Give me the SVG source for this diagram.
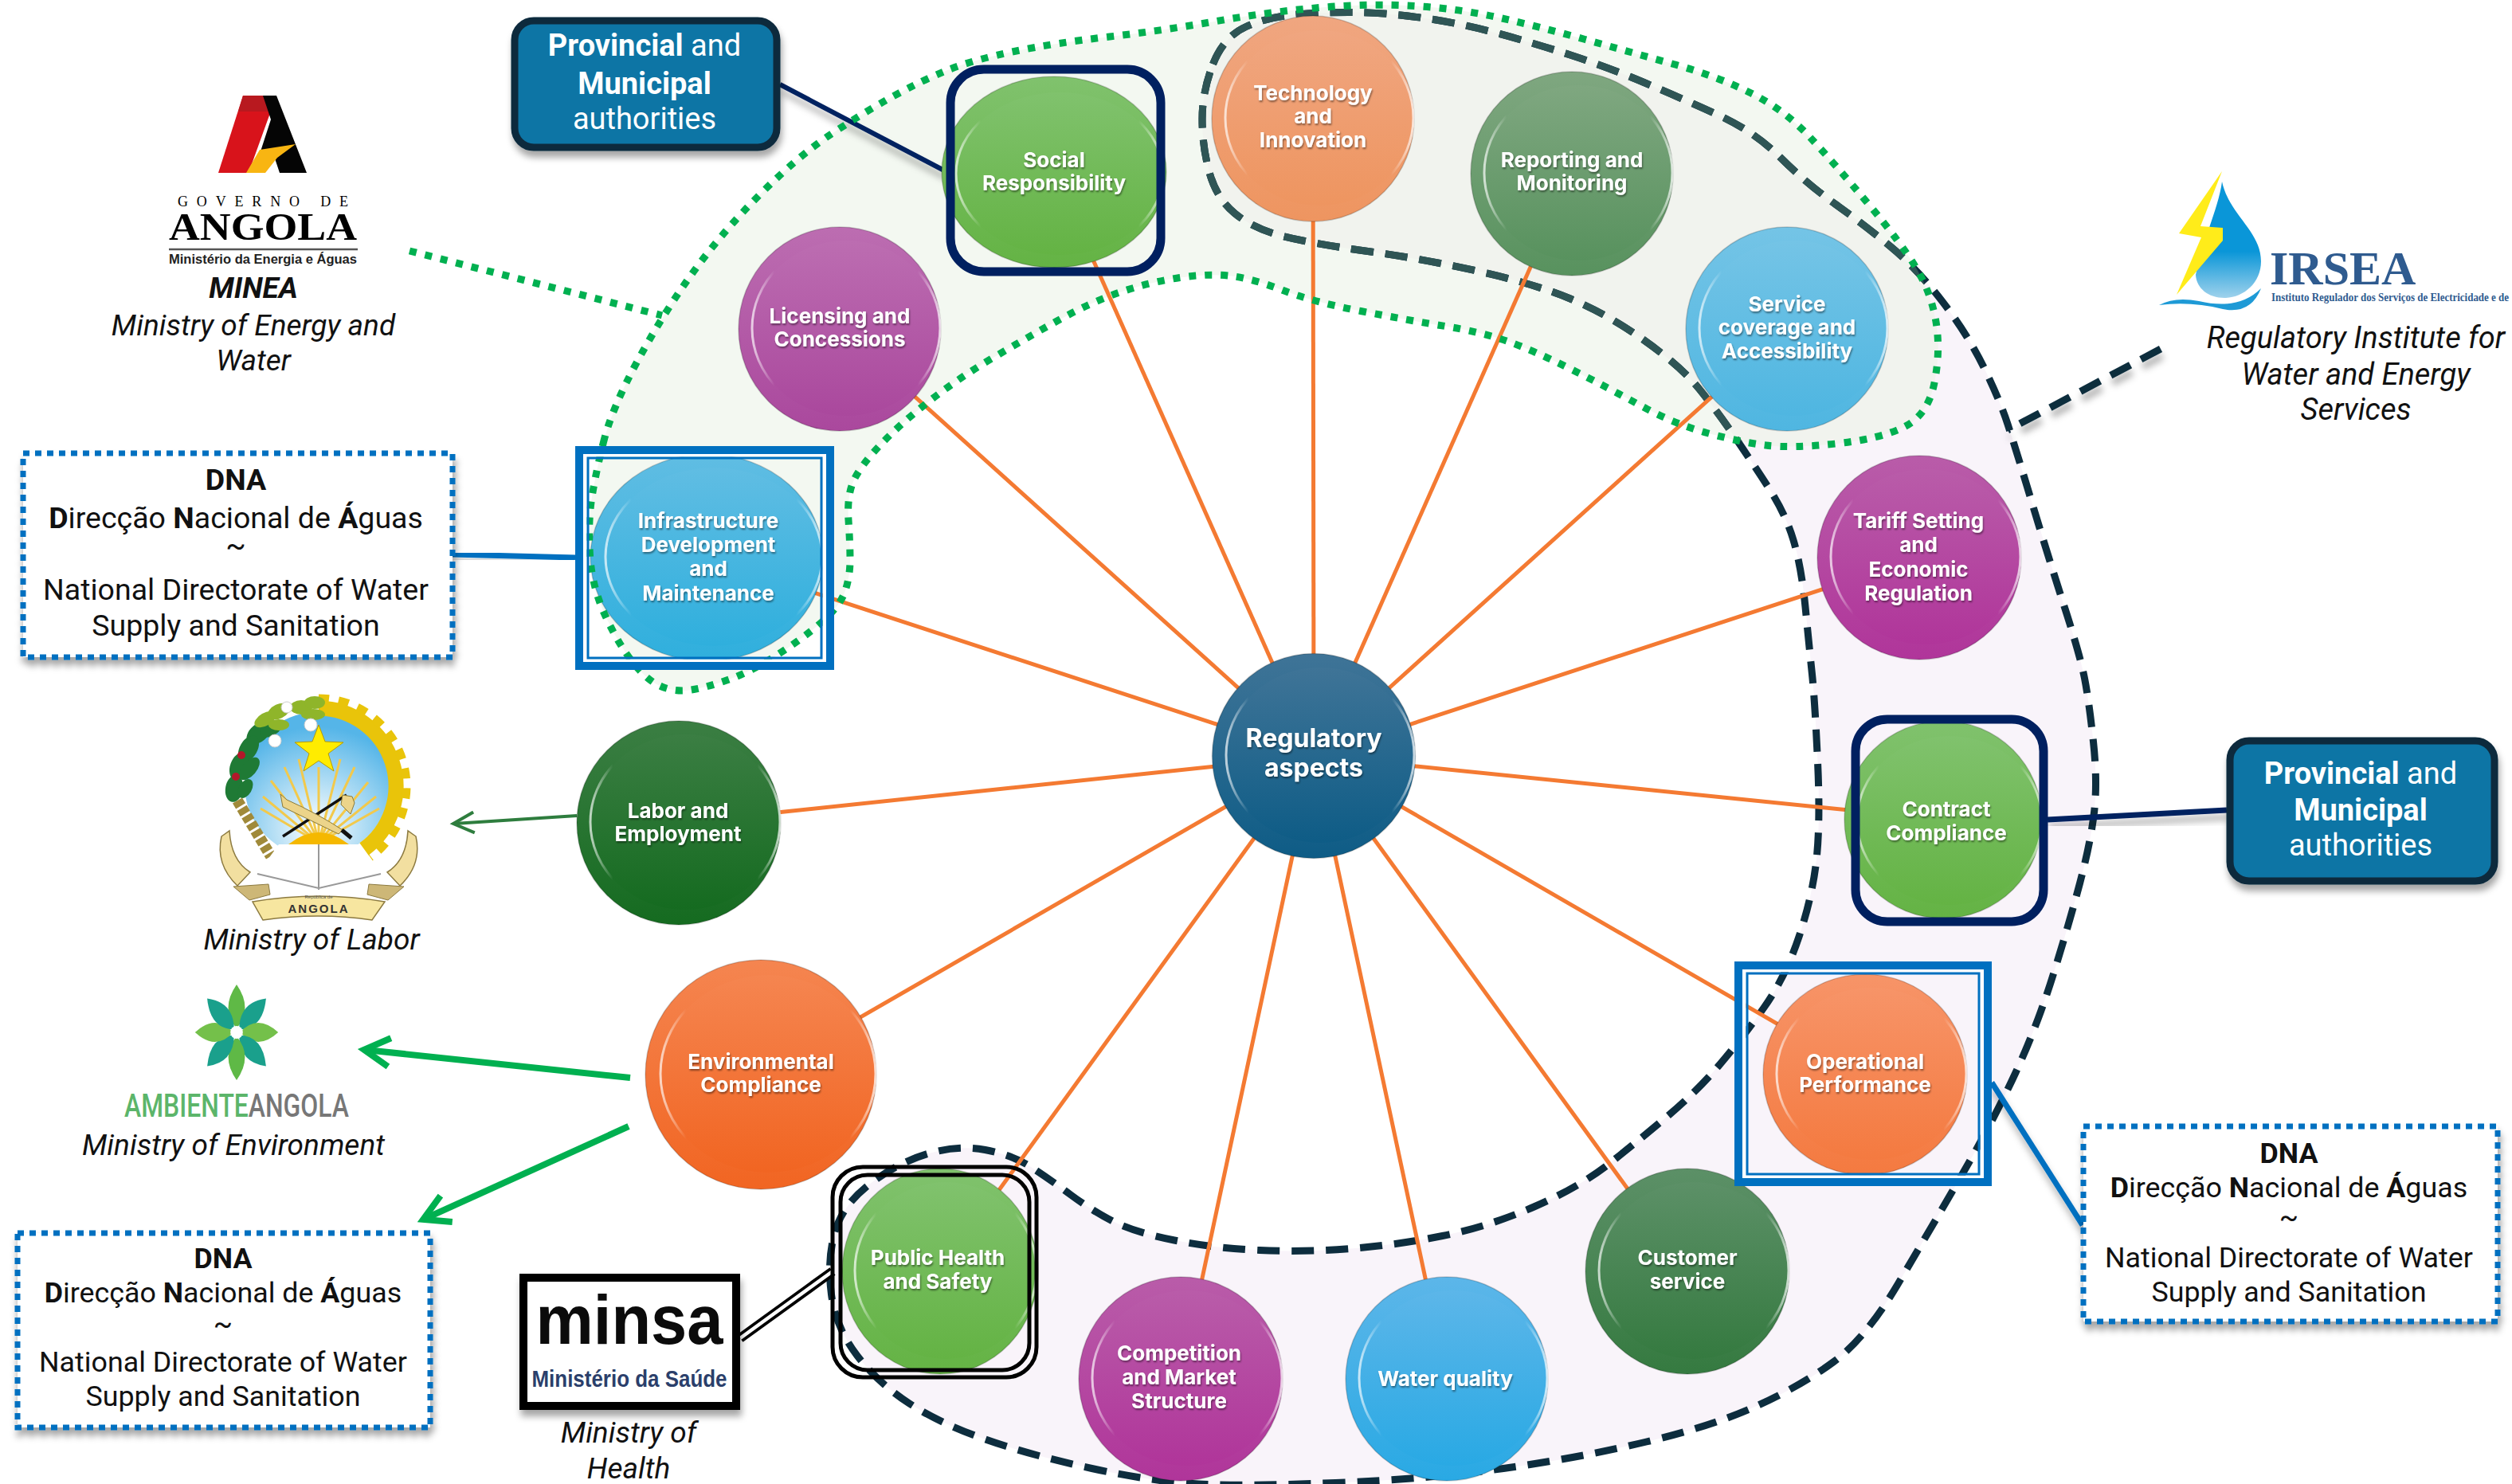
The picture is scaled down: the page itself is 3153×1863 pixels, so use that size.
<svg xmlns="http://www.w3.org/2000/svg" width="3153" height="1863" viewBox="0 0 3153 1863">
<style>
text{font-family:"Inter","Liberation Sans",sans-serif}
.lbl{font-weight:700;font-size:26px;fill:#fff;text-anchor:middle;filter:url(#ts)}
.bx{font-family:"Roboto","Liberation Sans",sans-serif;font-size:37.5px;fill:#111;text-anchor:middle}
.bx2{font-size:35.8px}
.cap{font-family:"Roboto","Liberation Sans",sans-serif;font-style:italic;font-size:37px;fill:#111;text-anchor:middle}
.pm{font-family:"Roboto","Liberation Sans",sans-serif;font-size:38px;fill:#fff;text-anchor:middle}
.b{font-weight:700}
.dot{fill:#fff;stroke:#0070c0;stroke-width:7;stroke-dasharray:8 7;filter:url(#ds)}
.prov{fill:#0c75a5;stroke:#0b2a3d;stroke-width:9;filter:url(#ds)}
.spoke{stroke:#f47a32;stroke-width:5;fill:none}
.i{stroke:url(#hl);stroke-width:3}
.rim{stroke:#000;stroke-opacity:.18;stroke-width:1.5}
.thick{fill:none;stroke:#0070c0;stroke-width:10}
.thin{fill:none;stroke:#0070c0;stroke-width:3}
.gap{fill:none;stroke:#fff;stroke-width:5}
.nav{fill:none;stroke:#002060;stroke-width:11}
.blk{fill:none;stroke:#000;stroke-width:5}
.dd{fill:none;stroke-width:9;stroke-dasharray:28 15}
</style>
<defs>
<path id="dp" d="M1522.5 80.5Q1536 46 1564 33.5Q1592 21 1629 18Q1666 15 1703 15.5Q1740 16 1786 22.5Q1832 29 1878.5 41.5Q1925 54 1971 69Q2017 84 2063.5 103.5Q2110 123 2156 144Q2202 165 2234.5 197.5Q2267 230 2304 256.5Q2341 283 2373.5 310Q2406 337 2438 378.5Q2470 420 2490 461Q2510 502 2520 532.5Q2530 563 2550 629.5Q2570 696 2590.5 759.5Q2611 823 2616.5 851.5Q2622 880 2627.5 931Q2633 982 2628.5 1020Q2624 1058 2610.5 1109Q2597 1160 2577 1224Q2557 1288 2530 1346.5Q2503 1405 2463 1474Q2423 1543 2382.5 1611.5Q2342 1680 2301 1710Q2260 1740 2205 1765Q2150 1790 2066.5 1810Q1983 1830 1887 1843.5Q1791 1857 1676.5 1861.5Q1562 1866 1504.5 1863Q1447 1860 1370.5 1843.5Q1294 1827 1237 1807Q1180 1787 1141.5 1762Q1103 1737 1076 1702Q1049 1667 1043.5 1625Q1038 1583 1047.5 1548Q1057 1513 1091.5 1486.5Q1126 1460 1164 1448.5Q1202 1437 1236.5 1443.5Q1271 1450 1294 1465Q1317 1480 1344 1500Q1371 1520 1397.5 1533.5Q1424 1547 1474 1557Q1524 1567 1581 1569.5Q1638 1572 1695.5 1567.5Q1753 1563 1810.5 1551.5Q1868 1540 1925.5 1515Q1983 1490 2021 1460Q2059 1430 2094.5 1400Q2130 1370 2158.5 1336.5Q2187 1303 2214 1265Q2241 1227 2258 1176Q2275 1125 2280 1079Q2285 1033 2281.5 956.5Q2278 880 2274.5 846.5Q2271 813 2266 762Q2261 711 2251 678Q2241 645 2221 614Q2201 583 2178.5 550Q2156 517 2133 488.5Q2110 460 2063.5 427Q2017 394 1971 375Q1925 356 1855.5 340.5Q1786 325 1717 315.5Q1648 306 1610.5 296.5Q1573 287 1550 268Q1527 249 1518 216.5Q1509 184 1509 149.5Q1509 115 1522.5 80.5Z"/>
<path id="gp" d="M757.5 555Q768 513 799.5 454.5Q831 396 868 344.5Q905 293 954 244Q1003 195 1043 168.5Q1083 142 1120 121.5Q1157 101 1189.5 88Q1222 75 1273 64.5Q1324 54 1393 46Q1462 38 1527 26.5Q1592 15 1656.5 9.5Q1721 4 1776.5 7.5Q1832 11 1883 22.5Q1934 34 1989.5 49.5Q2045 65 2100.5 80.5Q2156 96 2198 117Q2240 138 2272 172.5Q2304 207 2345.5 256.5Q2387 306 2405.5 337Q2424 368 2430 404Q2436 440 2428 480.5Q2420 521 2390 536Q2360 551 2304.5 557Q2249 563 2216.5 559Q2184 555 2142.5 543.5Q2101 532 2059 509Q2017 486 1971 463Q1925 440 1892.5 428.5Q1860 417 1814 409.5Q1768 402 1708 390.5Q1648 379 1610.5 364.5Q1573 350 1545.5 346.5Q1518 343 1481 348.5Q1444 354 1407 366.5Q1370 379 1328.5 402Q1287 425 1245 450Q1203 475 1166.5 503.5Q1130 532 1104.5 559Q1079 586 1071 604.5Q1063 623 1065 653Q1067 683 1067 703Q1067 723 1061 741.5Q1055 760 1032.5 780Q1010 800 976.5 821.5Q943 843 915 853Q887 863 867.5 866Q848 869 830.5 862Q813 855 795 832.5Q777 810 760 773.5Q743 737 740.5 697Q738 657 742.5 627Q747 597 757.5 555Z"/>
<clipPath id="gc"><use href="#gp"/></clipPath>
<filter id="ts" x="-10%" y="-20%" width="120%" height="150%"><feDropShadow dx="1" dy="2" stdDeviation="1.2" flood-color="#000" flood-opacity=".45"/></filter>
<filter id="ds" x="-10%" y="-10%" width="120%" height="125%"><feDropShadow dx="2" dy="8" stdDeviation="4" flood-color="#000" flood-opacity=".35"/></filter>
<filter id="ls" x="-10%" y="-40%" width="120%" height="200%"><feDropShadow dx="2" dy="9" stdDeviation="4" flood-color="#000" flood-opacity=".3"/></filter>
<linearGradient id="hl" x1="0" x2="1" y1="0" y2="0"><stop offset="0" stop-color="#fff" stop-opacity=".7"/><stop offset=".12" stop-color="#fff" stop-opacity="0"/><stop offset=".88" stop-color="#fff" stop-opacity="0"/><stop offset="1" stop-color="#fff" stop-opacity=".75"/></linearGradient>
<linearGradient id="navy" x1="0" x2="0" y1="0" y2="1"><stop offset="0" stop-color="#3f7497"/><stop offset="1" stop-color="#0e5c86"/></linearGradient>
<linearGradient id="grn" x1="0" x2="0" y1="0" y2="1"><stop offset="0" stop-color="#80c26d"/><stop offset="1" stop-color="#64b344"/></linearGradient>
<linearGradient id="tech" x1="0" x2="0" y1="0" y2="1"><stop offset="0" stop-color="#f0a680"/><stop offset="1" stop-color="#ee9560"/></linearGradient>
<linearGradient id="env" x1="0" x2="0" y1="0" y2="1"><stop offset="0" stop-color="#f58550"/><stop offset="1" stop-color="#f16522"/></linearGradient>
<linearGradient id="ope" x1="0" x2="0" y1="0" y2="1"><stop offset="0" stop-color="#f79468"/><stop offset="1" stop-color="#f47a40"/></linearGradient>
<linearGradient id="rep" x1="0" x2="0" y1="0" y2="1"><stop offset="0" stop-color="#7fa780"/><stop offset="1" stop-color="#58925e"/></linearGradient>
<linearGradient id="ser" x1="0" x2="0" y1="0" y2="1"><stop offset="0" stop-color="#74c4e6"/><stop offset="1" stop-color="#4fb6e1"/></linearGradient>
<linearGradient id="inf" x1="0" x2="0" y1="0" y2="1"><stop offset="0" stop-color="#60bde3"/><stop offset="1" stop-color="#2fafdd"/></linearGradient>
<linearGradient id="wat" x1="0" x2="0" y1="0" y2="1"><stop offset="0" stop-color="#5cb6e9"/><stop offset="1" stop-color="#29a9e4"/></linearGradient>
<linearGradient id="lic" x1="0" x2="0" y1="0" y2="1"><stop offset="0" stop-color="#bc6db1"/><stop offset="1" stop-color="#aa489d"/></linearGradient>
<linearGradient id="tar" x1="0" x2="0" y1="0" y2="1"><stop offset="0" stop-color="#b95ca9"/><stop offset="1" stop-color="#b0359a"/></linearGradient>
<linearGradient id="lab" x1="0" x2="0" y1="0" y2="1"><stop offset="0" stop-color="#3b7e43"/><stop offset="1" stop-color="#156b20"/></linearGradient>
<linearGradient id="cus" x1="0" x2="0" y1="0" y2="1"><stop offset="0" stop-color="#5c9067"/><stop offset="1" stop-color="#357a40"/></linearGradient>
<radialGradient id="sky" cx=".5" cy=".8" r=".7"><stop offset="0" stop-color="#fff"/><stop offset="1" stop-color="#55b5e8"/></radialGradient>
<linearGradient id="drop" x1="0" x2="0" y1="0" y2="1"><stop offset=".6" stop-color="#0a96d8"/><stop offset="1" stop-color="#9fd2ec"/></linearGradient>
<path id="pet" d="M0 -5 Q24 -30 0 -60 Q-24 -30 0 -5Z"/>
<marker id="ah1" markerUnits="userSpaceOnUse" markerWidth="44" markerHeight="44" viewBox="0 0 44 44" refX="31" refY="22" orient="auto"><path d="M6 9L32 22L6 35" fill="none" stroke="#2e7d3e" stroke-width="4"/></marker>
<marker id="ah2" markerUnits="userSpaceOnUse" markerWidth="60" markerHeight="60" viewBox="0 0 60 60" refX="38" refY="30" orient="auto"><path d="M8 12L40 30L8 48" fill="none" stroke="#00b050" stroke-width="8"/></marker>
</defs>
<rect width="3153" height="1863" fill="#fff"/>

<g id="regions">
<use id="dark-fill" href="#dp" fill="#f9f4fa"/>
<use id="green-fill" href="#gp" fill="#f3f8f1"/>
<use id="overlap-fill" href="#dp" fill="#f1f3ee" clip-path="url(#gc)"/>
<use id="dark-outline" class="dd" href="#dp" stroke="#0d2d3e"/>
<use id="dark-outline-over-green" class="dd" href="#dp" stroke="#2f5555" clip-path="url(#gc)"/>
</g>

<g id="connectors">
<g id="spokes">
<line class="spoke" x1="1649" y1="949" x2="1323" y2="216"/>
<line class="spoke" x1="1649" y1="949" x2="1054" y2="413"/>
<line class="spoke" x1="1649" y1="949" x2="1648" y2="149"/>
<line class="spoke" x1="1649" y1="949" x2="1973" y2="218"/>
<line class="spoke" x1="1649" y1="949" x2="2243" y2="413"/>
<line class="spoke" x1="1649" y1="949" x2="2409" y2="700"/>
<line class="spoke" x1="1649" y1="949" x2="2439" y2="1029"/>
<line class="spoke" x1="1649" y1="949" x2="2341" y2="1349"/>
<line class="spoke" x1="1649" y1="949" x2="2118" y2="1596"/>
<line class="spoke" x1="1649" y1="949" x2="1816" y2="1731"/>
<line class="spoke" x1="1649" y1="949" x2="1482" y2="1731"/>
<line class="spoke" x1="1649" y1="949" x2="1180" y2="1596"/>
<line class="spoke" x1="1649" y1="949" x2="955" y2="1349"/>
<line class="spoke" x1="1649" y1="949" x2="852" y2="1033"/>
<line class="spoke" x1="1649" y1="949" x2="887" y2="700"/>
</g>
<line id="minea-link" x1="514" y1="315" x2="831" y2="396" stroke="#00b050" stroke-width="9" stroke-dasharray="9 11"/>
<path id="irsea-link" d="M2712 438L2520 540" fill="none" stroke="#0d2d3e" stroke-width="9" stroke-dasharray="28 15" filter="url(#ls)"/>
<line id="prov1-link" x1="979" y1="106" x2="1185" y2="214" stroke="#002060" stroke-width="6" filter="url(#ls)"/>
<line id="prov2-link" x1="2795" y1="1017" x2="2570" y2="1029" stroke="#002060" stroke-width="7" filter="url(#ls)"/>
<line id="dna1-link" x1="568" y1="696" x2="722" y2="700" stroke="#0070c0" stroke-width="7" filter="url(#ls)"/>
<line id="dna3-link" x1="2500" y1="1359" x2="2614" y2="1538" stroke="#0070c0" stroke-width="7" filter="url(#ls)"/>
<line id="labor-link" x1="724" y1="1024" x2="570" y2="1034" stroke="#2e7d3e" stroke-width="4" marker-end="url(#ah1)"/>
<line id="env-link-1" x1="791" y1="1353" x2="459" y2="1318" stroke="#00b050" stroke-width="8" marker-end="url(#ah2)"/>
<line id="env-link-2" x1="789" y1="1414" x2="533" y2="1530" stroke="#00b050" stroke-width="8" marker-end="url(#ah2)"/>
<g id="health-link"><line x1="929" y1="1680" x2="1045" y2="1596" stroke="#000" stroke-width="12"/><line x1="929" y1="1680" x2="1045" y2="1596" stroke="#fff" stroke-width="4.5"/></g>
</g>

<g id="n-center"><ellipse class="rim" cx="1649" cy="949" rx="127.5" ry="128.5" fill="url(#navy)"/><ellipse class="i" cx="1657" cy="948" rx="118" ry="110" fill="url(#navy)"/><text class="lbl" style="font-size:32px" x="1649" y="938">Regulatory</text><text class="lbl" style="font-size:32px" x="1649" y="975">aspects</text></g>

<g id="n-social"><ellipse class="rim" cx="1323" cy="216" rx="141" ry="120" fill="url(#grn)"/><ellipse class="i" cx="1330" cy="218" rx="130" ry="102" fill="url(#grn)"/><text class="lbl" x="1323" y="210">Social</text><text class="lbl" x="1323" y="239">Responsibility</text></g>
<g id="n-licensing"><ellipse class="rim" cx="1054" cy="413" rx="127" ry="128" fill="url(#lic)"/><ellipse class="i" cx="1062" cy="412" rx="118" ry="110" fill="url(#lic)"/><text class="lbl" x="1054" y="406">Licensing and</text><text class="lbl" x="1054" y="435">Concessions</text></g>
<g id="n-technology"><ellipse class="rim" cx="1648" cy="149" rx="127" ry="129" fill="url(#tech)"/><ellipse class="i" cx="1656" cy="148" rx="118" ry="110" fill="url(#tech)"/><text class="lbl" x="1648" y="126">Technology</text><text class="lbl" x="1648" y="155">and</text><text class="lbl" x="1648" y="185">Innovation</text></g>
<g id="n-reporting"><ellipse class="rim" cx="1973" cy="218" rx="127" ry="128" fill="url(#rep)"/><ellipse class="i" cx="1981" cy="217" rx="118" ry="110" fill="url(#rep)"/><text class="lbl" x="1973" y="210">Reporting and</text><text class="lbl" x="1973" y="239">Monitoring</text></g>
<g id="n-service"><ellipse class="rim" cx="2243" cy="413" rx="127" ry="128" fill="url(#ser)"/><ellipse class="i" cx="2251" cy="412" rx="118" ry="110" fill="url(#ser)"/><text class="lbl" x="2243" y="391">Service</text><text class="lbl" x="2243" y="420">coverage and</text><text class="lbl" x="2243" y="450">Accessibility</text></g>
<g id="n-tariff"><ellipse class="rim" cx="2409" cy="700" rx="128" ry="128" fill="url(#tar)"/><ellipse class="i" cx="2417" cy="699" rx="119" ry="110" fill="url(#tar)"/><text class="lbl" x="2408" y="663">Tariff Setting</text><text class="lbl" x="2408" y="693">and</text><text class="lbl" x="2408" y="724">Economic</text><text class="lbl" x="2408" y="754">Regulation</text></g>
<g id="n-contract"><ellipse class="rim" cx="2439" cy="1029" rx="124" ry="124" fill="url(#grn)"/><ellipse class="i" cx="2447" cy="1030" rx="116" ry="106" fill="url(#grn)"/><text class="lbl" x="2443" y="1025">Contract</text><text class="lbl" x="2443" y="1055">Compliance</text></g>
<g id="n-operational"><ellipse class="rim" cx="2341" cy="1349" rx="128" ry="126" fill="url(#ope)"/><ellipse class="i" cx="2349" cy="1348" rx="119" ry="108" fill="url(#ope)"/><text class="lbl" x="2341" y="1342">Operational</text><text class="lbl" x="2341" y="1371">Performance</text></g>
<g id="n-customer"><ellipse class="rim" cx="2118" cy="1596" rx="128" ry="129" fill="url(#cus)"/><ellipse class="i" cx="2126" cy="1595" rx="119" ry="111" fill="url(#cus)"/><text class="lbl" x="2118" y="1588">Customer</text><text class="lbl" x="2118" y="1618">service</text></g>
<g id="n-water"><ellipse class="rim" cx="1816" cy="1731" rx="127" ry="128" fill="url(#wat)"/><ellipse class="i" cx="1824" cy="1730" rx="118" ry="110" fill="url(#wat)"/><text class="lbl" x="1814" y="1740">Water quality</text></g>
<g id="n-competition"><ellipse class="rim" cx="1482" cy="1731" rx="128" ry="128" fill="url(#tar)"/><ellipse class="i" cx="1490" cy="1730" rx="119" ry="110" fill="url(#tar)"/><text class="lbl" x="1480" y="1708">Competition</text><text class="lbl" x="1480" y="1738">and Market</text><text class="lbl" x="1480" y="1768">Structure</text></g>
<g id="n-health"><ellipse class="rim" cx="1180" cy="1596" rx="123" ry="129" fill="url(#grn)"/><ellipse class="i" cx="1187" cy="1595" rx="114" ry="111" fill="url(#grn)"/><text class="lbl" x="1177" y="1588">Public Health</text><text class="lbl" x="1177" y="1618">and Safety</text></g>
<g id="n-environmental"><ellipse class="rim" cx="955" cy="1349" rx="145" ry="144" fill="url(#env)"/><ellipse class="i" cx="964" cy="1348" rx="135" ry="124" fill="url(#env)"/><text class="lbl" x="955" y="1342">Environmental</text><text class="lbl" x="955" y="1371">Compliance</text></g>
<g id="n-labor"><ellipse class="rim" cx="852" cy="1033" rx="128" ry="128" fill="url(#lab)"/><ellipse class="i" cx="860" cy="1032" rx="119" ry="110" fill="url(#lab)"/><text class="lbl" x="851" y="1027">Labor and</text><text class="lbl" x="851" y="1056">Employment</text></g>
<g id="n-infrastructure"><ellipse class="rim" cx="887" cy="700" rx="146" ry="130" fill="url(#inf)"/><ellipse class="i" cx="896" cy="699" rx="136" ry="112" fill="url(#inf)"/><text class="lbl" x="889" y="663">Infrastructure</text><text class="lbl" x="889" y="693">Development</text><text class="lbl" x="889" y="723">and</text><text class="lbl" x="889" y="754">Maintenance</text></g>

<use id="green-outline" href="#gp" fill="none" stroke="#00b050" stroke-width="9" stroke-dasharray="9 11"/>

<g id="frames">
<rect class="nav" x="1193" y="87" width="264" height="254" rx="42"/>
<rect class="nav" x="2329" y="903" width="236" height="254" rx="40"/>
<g id="frame-infrastructure"><rect class="gap" x="734" y="571" width="301" height="259"/><rect class="thick" x="727" y="565" width="315" height="271"/><rect class="thin" x="738" y="575" width="293" height="251"/></g>
<g id="frame-operational"><rect class="gap" x="2189" y="1218" width="299" height="260"/><rect class="thick" x="2182" y="1212" width="313" height="272"/><rect class="thin" x="2193" y="1222" width="291" height="252"/></g>
<g id="frame-health"><rect class="blk" x="1045" y="1465" width="256" height="264" rx="38"/><rect class="blk" x="1055" y="1475" width="237" height="245" rx="34"/></g>
</g>

<g id="box-prov-1"><rect class="prov" x="646" y="26" width="329" height="159" rx="24"/><text class="pm" x="809" y="70"><tspan class="b">Provincial</tspan> and</text><text class="pm b" x="809" y="118">Municipal</text><text class="pm" x="809" y="162">authorities</text></g>
<g id="box-prov-2"><rect class="prov" x="2799" y="930" width="332" height="176" rx="24"/><text class="pm" x="2963" y="984"><tspan class="b">Provincial</tspan> and</text><text class="pm b" x="2963" y="1030">Municipal</text><text class="pm" x="2963" y="1074">authorities</text></g>

<g id="box-dna-1"><rect class="dot" x="29" y="569" width="539" height="256"/><text class="bx b" x="296" y="615">DNA</text><text class="bx" x="296" y="663"><tspan class="b">D</tspan>irecção <tspan class="b">N</tspan>acional de <tspan class="b">Á</tspan>guas</text><text class="bx" x="296" y="697">~</text><text class="bx" x="296" y="753">National Directorate of Water</text><text class="bx" x="296" y="798">Supply and Sanitation</text></g>
<g id="box-dna-2"><rect class="dot" x="22" y="1548" width="518" height="244"/><text class="bx bx2 b" x="280" y="1592">DNA</text><text class="bx bx2" x="280" y="1635"><tspan class="b">D</tspan>irecção <tspan class="b">N</tspan>acional de <tspan class="b">Á</tspan>guas</text><text class="bx bx2" x="280" y="1674">~</text><text class="bx bx2" x="280" y="1722">National Directorate of Water</text><text class="bx bx2" x="280" y="1765">Supply and Sanitation</text></g>
<g id="box-dna-3"><rect class="dot" x="2615" y="1414" width="520" height="245"/><text class="bx bx2 b" x="2873" y="1460">DNA</text><text class="bx bx2" x="2873" y="1503"><tspan class="b">D</tspan>irecção <tspan class="b">N</tspan>acional de <tspan class="b">Á</tspan>guas</text><text class="bx bx2" x="2873" y="1540">~</text><text class="bx bx2" x="2873" y="1591">National Directorate of Water</text><text class="bx bx2" x="2873" y="1634">Supply and Sanitation</text></g>

<g id="org-minea">
<polygon points="274,217 305,120 347,120 312,217" fill="#d8131b"/>
<polygon points="305,120 347,120 340,140 299,140" fill="#b8191f"/>
<polygon points="330,120 347,120 385,217 351,217 342,190 327,190 340,150" fill="#050505"/>
<polygon points="309,217 326,188 371,181 348,198 333,217" fill="#f8b512"/>
<text x="330" y="259" text-anchor="middle" font-size="18" style="font-family:'Liberation Serif',serif" textLength="214">GOVERNO DE</text>
<text x="330" y="301" text-anchor="middle" font-size="48" font-weight="700" style="font-family:'Liberation Serif',serif" textLength="236" lengthAdjust="spacingAndGlyphs">ANGOLA</text>
<line x1="212" y1="313" x2="449" y2="313" stroke="#555" stroke-width="2.5"/>
<text x="330" y="331" text-anchor="middle" font-size="17" font-weight="700" fill="#222" style="font-family:'Liberation Sans',sans-serif" textLength="236" lengthAdjust="spacingAndGlyphs">Ministério da Energia e Águas</text>
<text class="cap" x="318" y="374" style="font-weight:700">MINEA</text>
<text class="cap" x="318" y="421">Ministry of Energy and</text>
<text class="cap" x="318" y="465">Water</text>
</g>

<g id="org-irsea">
<path d="M2789 228C2798 270 2838 290 2838 328C2838 356 2815 374 2792 374C2772 374 2757 362 2756 345C2765 300 2785 260 2789 228Z" fill="url(#drop)"/>
<polygon points="2789,215 2735,293 2763,298 2732,370 2790,302 2790,286 2762,284" fill="#ffec1a"/>
<path d="M2710 383Q2730 372 2760 378Q2810 390 2838 362Q2825 395 2790 388Q2750 378 2710 383Z" fill="#1e9ad6"/>
<text x="2849" y="357" font-size="60" font-weight="700" fill="#2f5b8f" style="font-family:'Liberation Serif',serif">IRSEA</text>
<text x="2851" y="378" font-size="15" font-weight="700" fill="#2f5b8f" style="font-family:'Liberation Serif',serif" textLength="298" lengthAdjust="spacingAndGlyphs">Instituto Regulador dos Serviços de Electricidade e de</text>
<text class="cap" style="font-size:38px" x="2957" y="437">Regulatory Institute for</text>
<text class="cap" style="font-size:38px" x="2957" y="483">Water and Energy</text>
<text class="cap" style="font-size:38px" x="2957" y="527">Services</text>
</g>

<g id="org-labor">
<path d="M278 1050L288 1043Q290 1080 314 1095L298 1112Q270 1085 278 1050Z" fill="#f2dfa0" stroke="#8c7a40" stroke-width="1.5"/>
<path d="M522 1050L512 1043Q510 1080 486 1095L502 1112Q530 1085 522 1050Z" fill="#f2dfa0" stroke="#8c7a40" stroke-width="1.5"/>
<polygon points="293,1113 337,1110 339,1123 313,1130" fill="#cdb777" stroke="#8c7a40" stroke-width="1"/>
<polygon points="507,1113 463,1110 461,1123 487,1130" fill="#cdb777" stroke="#8c7a40" stroke-width="1"/>
<circle cx="398" cy="985" r="91" fill="url(#sky)"/>
<path d="M400 889A98 98 0 0 1 457 1066" fill="none" stroke="#e9c40a" stroke-width="19"/>
<path d="M400 877A110 110 0 0 1 464.6 1076" fill="none" stroke="#e9c40a" stroke-width="11" stroke-dasharray="13 12"/>
<path d="M400 1058L327 1015M400 1058L330 1000M400 1058L340 980M400 1058L357 963M400 1058L375 953M400 1058L400 963M400 1058L427 953M400 1058L445 963M400 1058L462 982M400 1058L472 1000M400 1058L476 1015" stroke="#f2c94c" stroke-width="3" fill="none"/>
<path d="M362 1060Q400 1030 438 1060Z" fill="#f5b800"/>
<polygon points="400,910 408,931 431,932 412,946 419,968 400,955 381,968 388,946 370,932 392,931" fill="#ffec00" stroke="#b89b00" stroke-width="1"/>
<path d="M355 1050L435 998" stroke="#111" stroke-width="3.5"/>
<polygon points="430,998 442,1000 445,1008 440,1022 428,1010" fill="#ecd48a" stroke="#8a7a3a" stroke-width="1"/>
<path d="M352 997L360 1004Q400 1022 430 1042L425 1047Q390 1030 355 1013Z" fill="#ecd48a" stroke="#8a7a3a" stroke-width="1"/>
<path d="M429 1042L441 1052" stroke="#111" stroke-width="5"/>
<g fill="#1f7a35">
<ellipse cx="325" cy="920" rx="18" ry="11" transform="rotate(-40 325 920)"/><ellipse cx="312" cy="940" rx="18" ry="11" transform="rotate(-60 312 940)"/><ellipse cx="300" cy="962" rx="18" ry="11" transform="rotate(-70 300 962)"/><ellipse cx="294" cy="990" rx="17" ry="11" transform="rotate(-80 294 990)"/><ellipse cx="313" cy="965" rx="17" ry="9" transform="rotate(-50 313 965)"/><ellipse cx="340" cy="915" rx="15" ry="9" transform="rotate(-30 340 915)"/><ellipse cx="308" cy="990" rx="13" ry="8" transform="rotate(-60 308 990)"/></g>
<g fill="#8fb52a"><ellipse cx="333" cy="903" rx="15" ry="8" transform="rotate(-30 333 903)"/><ellipse cx="350" cy="893" rx="15" ry="9" transform="rotate(-25 350 893)"/><ellipse cx="378" cy="888" rx="14" ry="9"/><ellipse cx="395" cy="882" rx="13" ry="8"/><ellipse cx="393" cy="897" rx="15" ry="7"/><ellipse cx="350" cy="910" rx="13" ry="7"/></g>
<circle cx="303" cy="948" r="5" fill="#b3182a"/><circle cx="296" cy="975" r="5" fill="#b3182a"/>
<circle cx="345" cy="930" r="8" fill="#fff" stroke="#ccc"/><circle cx="390" cy="910" r="8" fill="#fff" stroke="#ccc"/><circle cx="360" cy="888" r="7" fill="#fff" stroke="#ccc"/>
<path d="M298 1005L340 1075" stroke="#a08a3a" stroke-width="14" stroke-dasharray="8 3"/>
<polygon points="350,1060 450,1060 478,1097 400,1117 323,1097" fill="#fff"/>
<path d="M323 1097L400 1115L478 1097M400 1060V1117" fill="none" stroke="#999" stroke-width="2"/>
<path d="M317 1132Q400 1118 483 1132L467 1155Q400 1145 330 1155Z" fill="#f7e6a0" stroke="#8c7a40" stroke-width="1.5"/>
<text x="400" y="1128" text-anchor="middle" font-size="6" fill="#555" style="font-family:'Liberation Sans',sans-serif">República de</text>
<text x="400" y="1146" text-anchor="middle" font-size="15" font-weight="700" letter-spacing="2" fill="#333" style="font-family:'Liberation Sans',sans-serif">ANGOLA</text>
<text class="cap" x="391" y="1192">Ministry of Labor</text>
</g>

<g id="org-environment">
<g transform="translate(297 1296) scale(.87 1)">
<use href="#pet" fill="#5fb946"/><use href="#pet" fill="#1aa08c" transform="rotate(45)"/><use href="#pet" fill="#74c04a" transform="rotate(90)"/><use href="#pet" fill="#1aa08c" transform="rotate(135)"/><use href="#pet" fill="#5fb946" transform="rotate(180)"/><use href="#pet" fill="#1aa08c" transform="rotate(225)"/><use href="#pet" fill="#74c04a" transform="rotate(270)"/><use href="#pet" fill="#1aa08c" transform="rotate(315)"/>
<ellipse rx="9" ry="8" fill="#fff"/></g>
<text x="156" y="1402" font-size="40" style="font-family:'Roboto',sans-serif" font-weight="500" textLength="282" lengthAdjust="spacingAndGlyphs"><tspan fill="#5cb56a">AMBIENTE</tspan><tspan fill="#777">ANGOLA</tspan></text>
<text class="cap" x="293" y="1450">Ministry of Environment</text>
</g>

<g id="org-health">
<rect x="657" y="1604" width="267" height="161" fill="#fff" stroke="#000" stroke-width="10" filter="url(#ds)"/>
<text x="790" y="1687" text-anchor="middle" font-size="88" font-weight="700" fill="#0b0b0b" style="font-family:'Liberation Sans',sans-serif" textLength="235" lengthAdjust="spacingAndGlyphs">minsa</text>
<text x="790" y="1741" text-anchor="middle" font-size="30" font-weight="700" fill="#2b3f6b" style="font-family:'Liberation Sans',sans-serif" textLength="245" lengthAdjust="spacingAndGlyphs">Ministério da Saúde</text>
<text class="cap" x="789" y="1811">Ministry of</text>
<text class="cap" x="789" y="1856">Health</text>
</g>
</svg>
